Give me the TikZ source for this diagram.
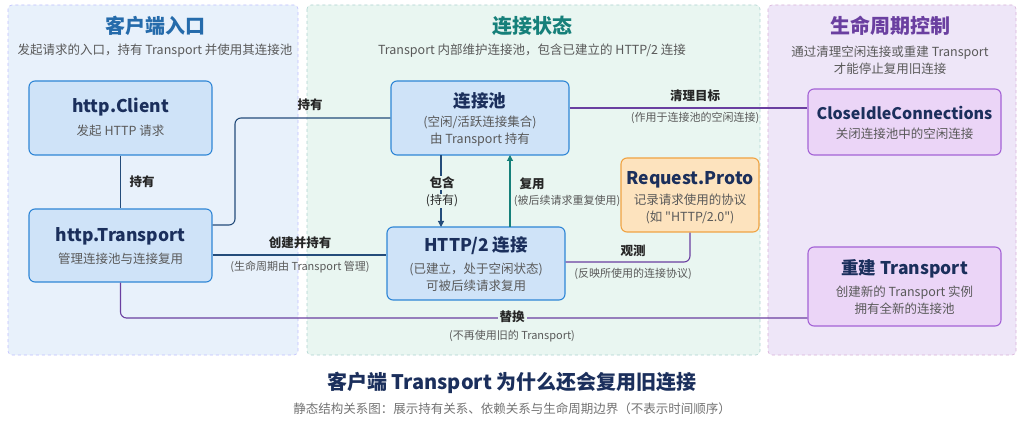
\documentclass[tikz,border=0pt]{standalone}
\usepackage{fontspec}
\setmainfont{Noto Sans CJK SC}[Ligatures=TeXOff]
\usetikzlibrary{arrows.meta}
\definecolor{bluefill}{HTML}{CFE3F8}
\definecolor{blueline}{HTML}{2F86D6}
\definecolor{purfill}{HTML}{EBD5F7}
\definecolor{purline}{HTML}{A463D6}
\definecolor{orfill}{HTML}{FDE3BE}
\definecolor{orline}{HTML}{F0A343}
\definecolor{navy}{HTML}{1B2F5C}
\definecolor{teal}{HTML}{16807A}
\definecolor{edgeblue}{HTML}{244C7A}
\definecolor{edgepur}{HTML}{6A3FA0}
\definecolor{bgblue}{HTML}{E8F1FB}
\definecolor{bggreen}{HTML}{E9F6F1}
\definecolor{bgpur}{HTML}{EEE6F8}
\tikzset{
  box/.style={draw, line width=1.1pt, rounded corners=6pt, align=center},
  bbox/.style={box, fill=bluefill, draw=blueline},
  pbox/.style={box, fill=purfill, draw=purline},
  obox/.style={box, fill=orfill, draw=orline},
  lab/.style={font=\fontsize{12.5}{14}\selectfont\bfseries, text=black!85},
  sub/.style={font=\fontsize{11}{13}\selectfont, text=black!65},
  ttl/.style={font=\fontsize{17.5}{20}\selectfont\bfseries, text=navy},
  txt/.style={font=\fontsize{12.5}{16.5}\selectfont, text=black!65},
  eb/.style={draw=edgeblue, line width=1.1pt, rounded corners=6pt},
  ep/.style={draw=edgepur, line width=1.1pt, rounded corners=6pt},
  panel/.style={draw, dashed, line width=0.6pt, rounded corners=4pt}
}
\begin{document}
\begin{tikzpicture}[x=1pt, y=-1pt]
%% canvas
\useasboundingbox[fill=white] (0,0) rectangle (1024,427);
%% panels
\path[panel, fill=bgblue, draw=blue!25] (8,5) rectangle (298,355);
\path[panel, fill=bggreen, draw=teal!35] (307,5) rectangle (760,355);
\path[panel, fill=bgpur, draw=violet!30] (768,5) rectangle (1016,355);
\node[font=\fontsize{20}{22}\selectfont\bfseries, text=blueline!80!black] at (155,26) {客户端入口};
\node[font=\fontsize{20}{22}\selectfont\bfseries, text=teal] at (532,26) {连接状态};
\node[font=\fontsize{20}{22}\selectfont\bfseries, text=edgepur] at (890,26) {生命周期控制};
\node[txt] at (155,51) {发起请求的入口，持有 Transport 并使用其连接池};
\node[txt] at (532,51) {Transport 内部维护连接池，包含已建立的 HTTP/2 连接};
\node[txt, align=center] at (890,60) {通过清理空闲连接或重建 Transport\\才能停止复用旧连接};
%% nodes
\node[bbox, minimum width=183, minimum height=74] (client) at (120.5,118) {};
\node[ttl] at (120.5,107) {http.Client};
\node[txt] at (120.5,131) {发起 HTTP 请求};
\node[bbox, minimum width=183, minimum height=73] (transport) at (120.5,245.5) {};
\node[ttl] at (120.5,236) {http.Transport};
\node[txt] at (120.5,259) {管理连接池与连接复用};
\node[bbox, minimum width=178, minimum height=74] (pool) at (480,118) {};
\node[ttl] at (480,101) {连接池};
\node[txt, align=center] at (480,131) {(空闲/活跃连接集合)\\由 Transport 持有};
\node[bbox, minimum width=178, minimum height=73] (conn) at (476,263.5) {};
\node[ttl] at (476,246) {HTTP/2 连接};
\node[txt, align=center] at (476,277) {(已建立，处于空闲状态)\\可被后续请求复用};
\node[obox, minimum width=138, minimum height=74] (proto) at (690,195) {};
\node[ttl] at (690,180) {Request.Proto};
\node[txt, align=center] at (690,209) {记录请求使用的协议\\(如 "HTTP/2.0")};
\node[pbox, minimum width=193, minimum height=66] (close) at (904.5,122) {};
\node[ttl, font=\fontsize{16}{20}\selectfont\bfseries] at (904.5,113) {CloseIdleConnections};
\node[txt] at (904.5,134) {关闭连接池中的空闲连接};
\node[pbox, minimum width=193, minimum height=79] (rebuild) at (904.5,286.5) {};
\node[ttl] at (904.5,269) {重建 Transport};
\node[txt, align=center] at (904.5,300) {创建新的 Transport 实例\\拥有全新的连接池};
%% edges
\draw[eb] (client.south) -- (transport.north);
\node[lab] at (142,182) {持有};
\draw[eb] (transport.east |- 0,225) -| (235,118) -- (pool.west);
\node[lab] at (310,105) {持有};
\draw[eb] (transport.east |- 0,255) -- (conn.west |- 0,255);
\node[lab] at (300,243) {创建并持有};
\node[sub] at (300,267) {(生命周期由 Transport 管理)};
\draw[eb, -{Triangle[length=6pt,width=6pt]}] (441,155) -- (441,227);
\node[lab, fill=bggreen, inner sep=1pt] at (442,183) {包含};
\node[lab, font=\fontsize{12}{14}\selectfont, fill=bggreen, inner sep=1pt] at (442,201) {(持有)};
\draw[draw=teal, line width=1.1pt, -{Triangle[length=6pt,width=6pt]}] (510,227) -- (510,155);
\node[lab] at (532,184) {复用};
\node[sub] at (567,201) {(被后续请求重复使用)};
\draw[ep] (conn.east |- 0,262) -| (proto.south);
\node[lab] at (633,251) {观测};
\node[sub] at (633,274) {(反映所使用的连接协议)};
\draw[ep] (pool.east |- 0,108) -- (close.west |- 0,108);
\node[lab] at (695,96) {清理目标};
\node[sub] at (695,118) {(作用于连接池的空闲连接)};
\draw[ep] (transport.south) |- (rebuild.west |- 0,318);
\node[lab, fill=bggreen, inner sep=2pt] at (512,317) {替换};
\node[sub] at (512,336) {(不再使用旧的 Transport)};
%% footer
\node[font=\fontsize{20}{22}\selectfont\bfseries, text=navy] at (512,383) {客户端 Transport 为什么还会复用旧连接};
\node[txt, text=black!55] at (512,409) {静态结构关系图：展示持有关系、依赖关系与生命周期边界（不表示时间顺序）};
\end{tikzpicture}
\end{document}
